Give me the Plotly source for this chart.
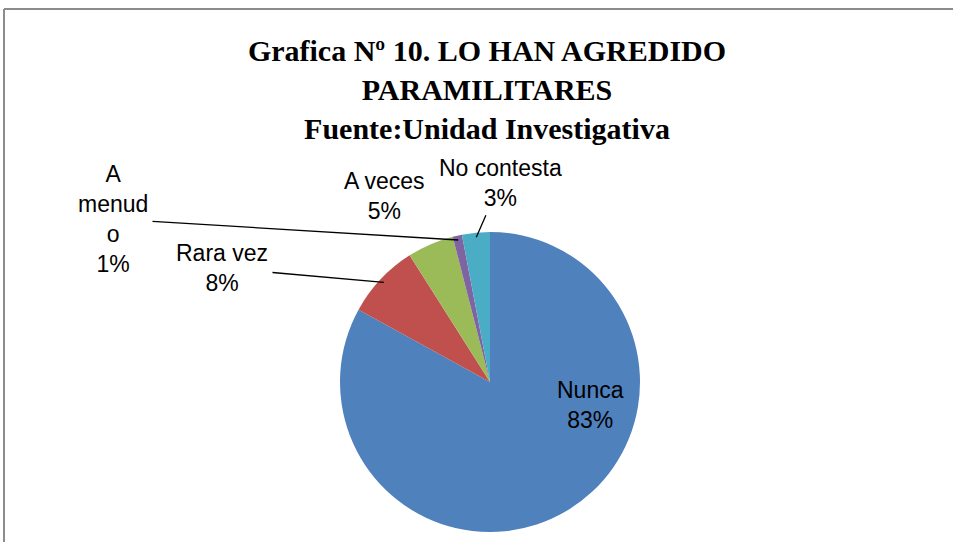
import plotly.graph_objects as go
import numpy as np

# ---- data ----
categories = ["Nunca", "Rara vez", "A veces", "A menudo", "No contesta"]
values = [83, 8, 5, 1, 3]
colors = ["#4F81BD", "#C0504D", "#9BBB59", "#8064A2", "#4BACC6"]
display_labels = ["Nunca", "Rara vez", "A veces", "A<br>menud<br>o", "No contesta"]
title_lines = ["Grafica Nº 10. LO HAN AGREDIDO", "PARAMILITARES", "Fuente:Unidad Investigativa"]

# ---- layout constants (pixels) ----
W, H = 953, 542
CX, CY, R = 490, 382, 150
# label centre positions; leader=True draws a line to the slice
label_pos = {
    "Nunca": (590, 405, False),
    "Rara vez": (222, 268, True),
    "A veces": (384, 196, False),
    "A menudo": (113, 219, True),
    "No contesta": (500, 183, True),
}
LABEL_FONT = dict(family="Liberation Sans, Arial, sans-serif", size=23, color="black")

dom_x = [(CX - 220) / W, (CX + 220) / W]
dom_y = [1 - (CY + R) / H, 1 - (CY - R) / H]

total = float(sum(values))

fig = go.Figure(go.Pie(
    labels=categories,
    values=values,
    sort=False,
    direction="clockwise",
    rotation=0,
    marker=dict(colors=colors, line=dict(width=0)),
    textinfo="none",
    domain=dict(x=dom_x, y=dom_y),
    showlegend=False,
    hoverinfo="label+percent",
))

cum = np.cumsum([0] + values[:-1]) / total
for i, cat in enumerate(categories):
    lx, ly, leader = label_pos[cat]
    pct = f"{values[i] / total * 100:.0f}%"
    text = f"{display_labels[i]}<br>{pct}"
    if leader:
        mid = (cum[i] + values[i] / total / 2) * 2 * np.pi  # clockwise from 12 o'clock
        hx = CX + R * 0.97 * np.sin(mid)
        hy = CY - R * 0.97 * np.cos(mid)
        fig.add_annotation(
            x=hx / W, y=1 - hy / H, xref="paper", yref="paper",
            ax=lx - hx, ay=ly - hy, axref="pixel", ayref="pixel",
            text=text, showarrow=True, arrowhead=0, arrowwidth=1.3,
            arrowcolor="black", standoff=0, startstandoff=3,
            font=LABEL_FONT, align="center",
        )
    else:
        fig.add_annotation(
            x=lx / W, y=1 - ly / H, xref="paper", yref="paper",
            xanchor="center", yanchor="middle",
            text=text, showarrow=False, font=LABEL_FONT, align="center",
        )

fig.update_layout(
    width=W, height=H,
    margin=dict(l=0, r=0, t=0, b=0),
    paper_bgcolor="white",
    plot_bgcolor="white",
    title=dict(
        text="<b>" + "<br>".join(title_lines) + "</b>",
        x=487 / W, xanchor="center",
        y=1 - 61 / H, yanchor="top",
        font=dict(family="Liberation Serif, Times New Roman, serif", size=30, color="black"),
    ),
    shapes=[
        dict(type="line", xref="paper", yref="paper",
             x0=4 / W, x1=1.0, y0=1 - 9 / H, y1=1 - 9 / H,
             line=dict(color="#8c8c8c", width=2)),
        dict(type="line", xref="paper", yref="paper",
             x0=4 / W, x1=4 / W, y0=0, y1=1 - 9 / H,
             line=dict(color="#8c8c8c", width=2)),
    ],
)

fig.write_html("out.html", config={"displayModeBar": False},
               post_script="document.body.style.margin='0px';")
